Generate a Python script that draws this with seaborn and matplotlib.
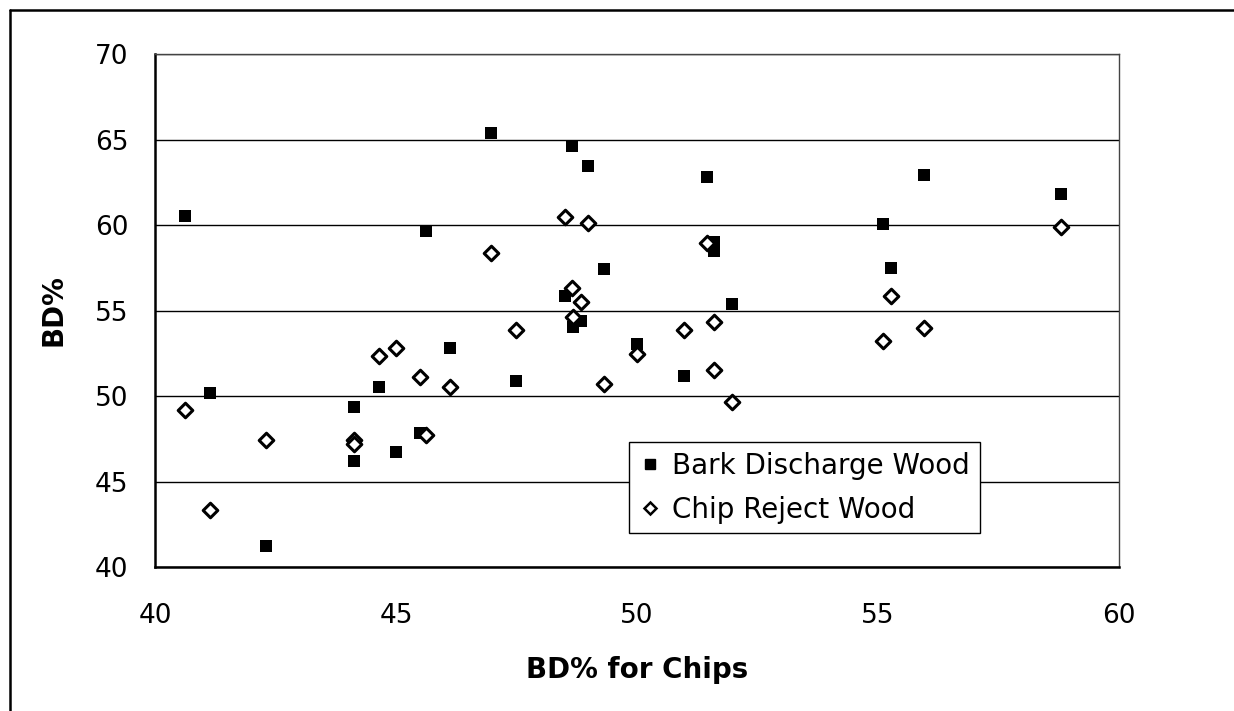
import pandas as pd
import seaborn as sns
import matplotlib.pyplot as plt
from matplotlib.lines import Line2D

# --------------------------
# Data
# --------------------------
bd_chips = [40.63, 41.15, 42.30, 44.12, 44.12, 44.65, 45.00, 45.50, 45.63, 46.12,
            46.98, 47.48, 48.50, 48.66, 48.67, 48.84, 48.98, 49.31, 50.00, 50.97,
            51.45, 51.60, 51.60, 51.98, 55.10, 55.26, 55.95, 58.80]
bark_discharge = [60.5, 50.2, 41.25, 49.35, 46.2, 50.55, 46.7, 47.85, 59.65, 52.8,
                  65.4, 50.9, 55.85, 64.6, 54.05, 54.4, 63.45, 57.4, 53.05, 51.15,
                  62.8, 59.0, 58.5, 55.4, 60.05, 57.5, 62.95, 61.8]
chip_reject = [49.2, 43.35, 47.45, 47.4, 47.2, 52.35, 52.8, 51.1, 47.7, 50.5,
               58.35, 53.85, 60.45, 56.3, 54.65, 55.5, 60.1, 50.7, 52.45, 53.85,
               58.95, 54.3, 51.5, 49.65, 53.2, 55.85, 54.0, 59.9]

series_names = ["Bark Discharge Wood", "Chip Reject Wood"]
x_ticks = [40, 45, 50, 55, 60]
y_ticks = [40, 45, 50, 55, 60, 65, 70]

df = pd.DataFrame({"BD% for Chips": bd_chips,
                   series_names[0]: bark_discharge,
                   series_names[1]: chip_reject})

# --------------------------
# Plot
# --------------------------
sns.set_style("white")
plt.rcParams["font.family"] = ["DejaVu Sans"]
plt.rcParams["text.color"] = "black"
plt.rcParams["axes.labelcolor"] = "black"

fig = plt.figure(figsize=(12.34, 7.11), dpi=100)
ax = fig.add_axes([0.1256, 0.2025, 0.7812, 0.7215])

sns.scatterplot(data=df, x="BD% for Chips", y=series_names[0], ax=ax,
                marker="s", s=80, color="black", edgecolor="black",
                linewidth=0, zorder=3)
sns.scatterplot(data=df, x="BD% for Chips", y=series_names[1], ax=ax,
                marker="D", s=55, facecolor="white", edgecolor="black",
                linewidth=2.2, zorder=4)

ax.set_xlim(40, 60)
ax.set_ylim(40, 70)
ax.set_xticks(x_ticks)
ax.set_yticks(y_ticks)
ax.yaxis.grid(True, color="black", linewidth=1.0)
ax.set_axisbelow(True)

ax.tick_params(axis="both", direction="out", length=7, width=1.2,
               colors="black", labelsize=19)
ax.tick_params(axis="x", pad=19)
ax.tick_params(axis="y", pad=12)

for side in ["left", "bottom"]:
    ax.spines[side].set_color("black")
    ax.spines[side].set_linewidth(1.8)
for side in ["top", "right"]:
    ax.spines[side].set_color("#444444")
    ax.spines[side].set_linewidth(1.0)

ax.set_xlabel("BD% for Chips", fontsize=20, fontweight="bold", labelpad=19,
              color="black")
ax.set_ylabel("BD%", fontsize=20, fontweight="bold", labelpad=20, color="black")

handles = [
    Line2D([], [], linestyle="none", marker="s", markersize=7,
           markerfacecolor="black", markeredgecolor="black"),
    Line2D([], [], linestyle="none", marker="D", markersize=6,
           markerfacecolor="white", markeredgecolor="black", markeredgewidth=1.8),
]
leg = ax.legend(handles, series_names, loc="upper left",
                bbox_to_anchor=(629 / 1234, 1 - 442 / 711),
                bbox_transform=fig.transFigure, borderaxespad=0,
                fontsize=20, frameon=True, fancybox=False, framealpha=1,
                handlelength=0.8, handletextpad=0.4, labelspacing=0.57,
                borderpad=0.35)
leg.get_frame().set_edgecolor("black")
leg.get_frame().set_linewidth(1.0)
for t in leg.get_texts():
    t.set_color("black")

# outer chart border (left and top edges visible in the scan)
fig.add_artist(Line2D([10 / 1234, 10 / 1234], [0, 1 - 10 / 711],
                      transform=fig.transFigure, color="black", linewidth=1.8))
fig.add_artist(Line2D([10 / 1234, 1], [1 - 10 / 711, 1 - 10 / 711],
                      transform=fig.transFigure, color="black", linewidth=1.8))

plt.savefig("out.png", dpi=100)
